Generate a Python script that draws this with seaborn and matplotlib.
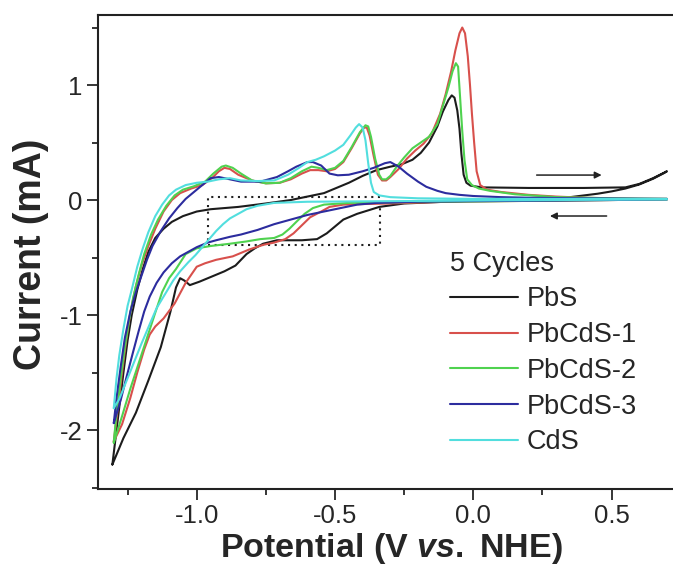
import numpy as np
import pandas as pd
import matplotlib
matplotlib.use("Agg")
import matplotlib.pyplot as plt
import seaborn as sns
from matplotlib.patches import Rectangle
from matplotlib.ticker import MultipleLocator

# CV loops: forward scan (-1.3 -> 0.7 V) then reverse scan back
pbs_v = [-1.305, -1.295, -1.28, -1.265, -1.25, -1.235, -1.215, -1.195, -1.175, -1.15, -1.12, -1.09,
         -1.05, -1.0, -0.95, -0.85, -0.75, -0.66, -0.6, -0.54, -0.5, -0.45, -0.4, -0.35, -0.3, -0.26,
         -0.22, -0.19, -0.16, -0.13, -0.11, -0.09, -0.078, -0.068, -0.058, -0.05, -0.043, -0.035,
         -0.025, -0.01, 0.03, 0.2, 0.4, 0.55, 0.6, 0.65, 0.7,
         0.69, 0.65, 0.6, 0.55, 0.5, 0.45, 0.4, 0.35, 0.3, 0.2, 0.0, -0.15, -0.25, -0.34, -0.42, -0.47,
         -0.5, -0.53, -0.565, -0.62, -0.71, -0.76, -0.79, -0.82, -0.86, -0.9, -0.94, -0.99, -1.025,
         -1.045, -1.06, -1.075, -1.095, -1.13, -1.175, -1.22, -1.265, -1.305]
pbs_i = [-2.3, -2.1, -1.8, -1.5, -1.22, -1.0, -0.78, -0.6, -0.45, -0.33, -0.25, -0.19,
         -0.14, -0.1, -0.08, -0.06, -0.03, 0.0, 0.03, 0.06, 0.1, 0.15, 0.21, 0.26, 0.29, 0.31,
         0.35, 0.41, 0.5, 0.64, 0.77, 0.87, 0.91, 0.89, 0.78, 0.62, 0.4, 0.22,
         0.15, 0.125, 0.11, 0.105, 0.105, 0.11, 0.14, 0.19, 0.25,
         0.235, 0.185, 0.135, 0.1, 0.075, 0.055, 0.04, 0.025, 0.012, 0.005, -0.005, -0.02, -0.03, -0.06,
         -0.12, -0.17, -0.23, -0.29, -0.34, -0.35, -0.35, -0.38, -0.42, -0.47, -0.57, -0.62, -0.66,
         -0.71, -0.74, -0.7, -0.68, -0.76, -0.97, -1.28, -1.57, -1.85, -2.07, -2.3]

pbcds1_v = [-1.3, -1.285, -1.27, -1.255, -1.24, -1.22, -1.2, -1.175, -1.15, -1.12, -1.09, -1.06,
            -1.02, -0.98, -0.945, -0.92, -0.9, -0.88, -0.85, -0.8, -0.75, -0.7, -0.66, -0.62, -0.59,
            -0.56, -0.53, -0.5, -0.47, -0.44, -0.41, -0.395, -0.385, -0.375, -0.36, -0.345, -0.33,
            -0.315, -0.3, -0.27, -0.24, -0.21, -0.18, -0.15, -0.12, -0.1, -0.08, -0.065, -0.05, -0.04,
            -0.03, -0.02, -0.012, -0.005, 0.003, 0.012, 0.025, 0.05, 0.1, 0.2, 0.3, 0.4, 0.5, 0.6, 0.7,
            0.7, 0.5, 0.3, 0.1, -0.1, -0.3, -0.4, -0.47, -0.52, -0.55, -0.59, -0.62, -0.65, -0.68,
            -0.72, -0.76, -0.81, -0.87, -0.93, -0.97, -1.0, -1.04, -1.08, -1.12, -1.15, -1.17, -1.19,
            -1.215, -1.24, -1.27, -1.3]
pbcds1_i = [-2.1, -1.8, -1.5, -1.22, -0.98, -0.75, -0.57, -0.4, -0.25, -0.1, 0.0, 0.06,
            0.1, 0.13, 0.19, 0.25, 0.28, 0.27, 0.22, 0.17, 0.145, 0.15, 0.18, 0.23, 0.26,
            0.26, 0.25, 0.27, 0.33, 0.45, 0.58, 0.63, 0.63, 0.56, 0.38, 0.22, 0.17,
            0.17, 0.2, 0.27, 0.36, 0.43, 0.49, 0.58, 0.75, 0.92, 1.12, 1.3, 1.45, 1.5,
            1.45, 1.25, 1.0, 0.75, 0.5, 0.25, 0.13, 0.09, 0.07, 0.045, 0.03, 0.02, 0.015, 0.01, 0.01,
            0.005, 0.0, -0.005, -0.01, -0.015, -0.03, -0.035, -0.04, -0.06, -0.1, -0.15, -0.22, -0.29,
            -0.34, -0.37, -0.39, -0.43, -0.49, -0.52, -0.55, -0.58, -0.72, -0.9, -1.03, -1.1, -1.17,
            -1.3, -1.5, -1.72, -1.95, -2.1]

pbcds2_v = [-1.3, -1.29, -1.275, -1.26, -1.245, -1.23, -1.21, -1.19, -1.165, -1.14, -1.11, -1.08,
            -1.05, -1.01, -0.97, -0.94, -0.91, -0.895, -0.87, -0.84, -0.8, -0.75, -0.7, -0.66, -0.62,
            -0.585, -0.56, -0.53, -0.5, -0.47, -0.44, -0.41, -0.39, -0.38, -0.37, -0.355, -0.34,
            -0.33, -0.315, -0.3, -0.277, -0.25, -0.22, -0.19, -0.16, -0.13, -0.11, -0.09, -0.075,
            -0.063, -0.055, -0.048, -0.04, -0.032, -0.022, -0.005, 0.02, 0.06, 0.15, 0.3, 0.5, 0.7,
            0.7, 0.5, 0.3, 0.1, -0.1, -0.3, -0.45, -0.54, -0.58, -0.61, -0.64, -0.665, -0.69, -0.72,
            -0.77, -0.82, -0.88, -0.95, -1.0, -1.04, -1.075, -1.1, -1.125, -1.15, -1.18, -1.21, -1.24,
            -1.27, -1.3]
pbcds2_i = [-2.11, -1.85, -1.55, -1.28, -1.05, -0.85, -0.65, -0.47, -0.3, -0.17, -0.05, 0.04,
            0.09, 0.12, 0.16, 0.23, 0.29, 0.3, 0.28, 0.23, 0.17, 0.145, 0.15, 0.19, 0.25,
            0.29, 0.28, 0.26, 0.28, 0.34, 0.46, 0.59, 0.65, 0.64, 0.55, 0.36, 0.22,
            0.18, 0.18, 0.21, 0.29, 0.37, 0.45, 0.5, 0.55, 0.66, 0.82, 0.98, 1.12,
            1.19, 1.16, 0.9, 0.6, 0.35, 0.18, 0.13, 0.1, 0.08, 0.05, 0.025, 0.015, 0.01,
            0.005, 0.0, -0.005, -0.01, -0.015, -0.02, -0.025, -0.04, -0.07, -0.12, -0.19, -0.25, -0.3,
            -0.33, -0.34, -0.36, -0.38, -0.4, -0.42, -0.47, -0.6, -0.68, -0.8, -0.98, -1.2, -1.42,
            -1.64, -1.88, -2.11]

pbcds3_v = [-1.3, -1.29, -1.275, -1.26, -1.24, -1.22, -1.2, -1.18, -1.16, -1.13, -1.1, -1.07,
            -1.04, -1.01, -0.98, -0.95, -0.92, -0.88, -0.84, -0.77, -0.71, -0.67, -0.64, -0.6,
            -0.58, -0.55, -0.52, -0.49, -0.45, -0.4, -0.36, -0.32, -0.3, -0.27, -0.24, -0.2, -0.17,
            -0.13, -0.1, -0.05, 0.0, 0.1, 0.2, 0.4, 0.7,
            0.7, 0.5, 0.3, 0.0, -0.2, -0.35, -0.42, -0.48, -0.54, -0.6, -0.66, -0.72, -0.78, -0.84,
            -0.88, -0.93, -0.96, -1.0, -1.03, -1.06, -1.09, -1.12, -1.145, -1.17, -1.19, -1.21,
            -1.23, -1.255, -1.275, -1.3]
pbcds3_i = [-1.94, -1.72, -1.45, -1.2, -0.97, -0.8, -0.66, -0.52, -0.4, -0.27, -0.16, -0.07,
            0.01, 0.07, 0.13, 0.19, 0.2, 0.18, 0.16, 0.16, 0.2, 0.25, 0.29, 0.33,
            0.33, 0.3, 0.23, 0.215, 0.22, 0.25, 0.28, 0.32, 0.33, 0.29, 0.23, 0.16, 0.115,
            0.08, 0.06, 0.045, 0.035, 0.025, 0.02, 0.015, 0.01,
            0.005, 0.0, -0.005, -0.01, -0.015, -0.025, -0.04, -0.07, -0.1, -0.13, -0.17, -0.21, -0.26,
            -0.3, -0.32, -0.35, -0.37, -0.41, -0.45, -0.49, -0.55, -0.63, -0.72, -0.84, -0.97, -1.14,
            -1.32, -1.55, -1.74, -1.94]

cds_v = [-1.3, -1.29, -1.28, -1.265, -1.25, -1.235, -1.215, -1.195, -1.175, -1.15, -1.125, -1.1,
         -1.075, -1.04, -1.0, -0.96, -0.92, -0.88, -0.84, -0.78, -0.72, -0.67, -0.63, -0.6, -0.57,
         -0.54, -0.5, -0.47, -0.445, -0.425, -0.413, -0.4, -0.39, -0.38, -0.37, -0.36, -0.34, -0.3,
         -0.2, 0.0, 0.3, 0.7,
         0.7, 0.3, 0.0, -0.3, -0.6, -0.72, -0.78, -0.82, -0.85, -0.88, -0.905, -0.93, -0.955, -0.98,
         -1.005, -1.03, -1.06, -1.085, -1.115, -1.145, -1.17, -1.2, -1.23, -1.255, -1.28, -1.3]
cds_i = [-1.81, -1.55, -1.35, -1.12, -0.92, -0.78, -0.58, -0.42, -0.28, -0.14, -0.04, 0.04,
         0.09, 0.13, 0.15, 0.16, 0.18, 0.19, 0.17, 0.165, 0.17, 0.22, 0.28, 0.33, 0.35,
         0.38, 0.43, 0.48, 0.56, 0.63, 0.66, 0.63, 0.52, 0.32, 0.15, 0.07, 0.04, 0.025,
         0.015, 0.01, 0.01, 0.01,
         0.005, 0.0, -0.005, -0.01, -0.015, -0.025, -0.05, -0.08, -0.12, -0.16, -0.21, -0.27, -0.34,
         -0.41, -0.48, -0.54, -0.62, -0.7, -0.82, -0.94, -1.08, -1.25, -1.43, -1.58, -1.73, -1.81]

samples = ["PbS", "PbCdS-1", "PbCdS-2", "PbCdS-3", "CdS"]
colors = ["#1c1c1c", "#d8504c", "#4fd24f", "#2c2c9e", "#52dede"]

# zoom box and scan direction arrows (V, mA)
box_v = (-0.958, -0.337)
box_i = (-0.39, 0.023)
arrow_fwd = ((0.229, 0.217), (0.464, 0.217))
arrow_rev = ((0.482, -0.139), (0.277, -0.139))

sns.set_theme(style="ticks")
plt.rcParams['font.family'] = ['Liberation Sans', 'DejaVu Sans']
plt.rcParams['axes.unicode_minus'] = False
plt.rcParams['mathtext.fontset'] = 'custom'
plt.rcParams['mathtext.rm'] = 'Liberation Sans:bold'
plt.rcParams['mathtext.it'] = 'Liberation Sans:italic:bold'

loops = [(pbs_v, pbs_i), (pbcds1_v, pbcds1_i), (pbcds2_v, pbcds2_i),
         (pbcds3_v, pbcds3_i), (cds_v, cds_i)]
frames = []
for name, (v, i) in zip(samples, loops):
    frames.append(pd.DataFrame({"potential": v, "current": i, "sample": name}))
df = pd.concat(frames, ignore_index=True)

fig = plt.figure(figsize=(6.73, 5.74), dpi=100)
ax = fig.add_axes([98 / 673, 85 / 574, 575 / 673, 474 / 574])

sns.lineplot(data=df, x="potential", y="current", hue="sample",
             palette=dict(zip(samples, colors)), hue_order=samples,
             estimator=None, sort=False, lw=1.5, ax=ax)

ax.add_patch(Rectangle((box_v[0], box_i[0]), box_v[1] - box_v[0], box_i[1] - box_i[0],
                       fill=False, ec="#222222", lw=1.5, ls=(0, (1, 2.2))))
for start, end in [arrow_fwd, arrow_rev]:
    ax.annotate("", xy=end, xytext=start,
                arrowprops=dict(arrowstyle="-|>", color="#222222", lw=1.1,
                                mutation_scale=10, shrinkA=0, shrinkB=0))

ax.set_xlim(-1.357, 0.722)
ax.set_ylim(-2.513, 1.609)
ax.xaxis.set_major_locator(MultipleLocator(0.5))
ax.xaxis.set_minor_locator(MultipleLocator(0.25))
ax.yaxis.set_major_locator(MultipleLocator(1))
ax.yaxis.set_minor_locator(MultipleLocator(0.5))
ax.xaxis.set_major_formatter(plt.FuncFormatter(lambda x, p: f"{x:.1f}"))
ax.yaxis.set_major_formatter(plt.FuncFormatter(lambda y, p: f"{y:.0f}"))
ax.tick_params(which="major", direction="out", length=8, width=1.3, labelsize=18.5, pad=3)
ax.tick_params(which="minor", direction="out", length=4.5, width=1.3)
for side in ["left", "bottom", "top"]:
    ax.spines[side].set_linewidth(1.5)
    ax.spines[side].set_color("#222222")
ax.spines["right"].set_visible(False)

ax.set_xlabel(r"Potential (V $\it{vs.}$ NHE)", fontsize=24.5, fontweight="bold")
ax.set_ylabel("Current (mA)", fontsize=27, fontweight="bold")
ax.xaxis.set_label_coords(0.51, -0.088)
ax.yaxis.set_label_coords(-0.086, 0.495)

sns.move_legend(ax, loc="upper left", bbox_to_anchor=(0.612, 0.503), title="5 Cycles",
                frameon=False, fontsize=19.5, title_fontsize=19.5, alignment="left",
                handlelength=2.5, handletextpad=0.33, labelspacing=0.36,
                borderpad=0, borderaxespad=0)

fig.savefig("out.png", dpi=100)
